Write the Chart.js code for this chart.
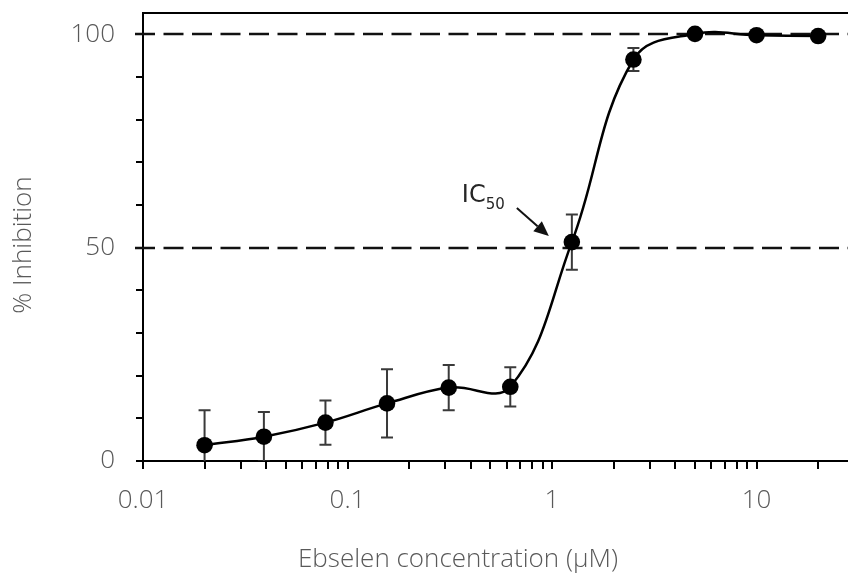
<!DOCTYPE html>
<html>
<head>
<meta charset="utf-8">
<script src="https://cdn.jsdelivr.net/npm/chart.js@4.4.1/dist/chart.umd.min.js"></script>
<style>
html,body{margin:0;padding:0;background:#fff;overflow:hidden}
#wrap{width:848px;height:578px}
</style>
</head>
<body>
<div id="wrap"><canvas id="c" width="848" height="578"></canvas></div>
<script>
// ---- data ----
const concentrations = [0.02, 0.039, 0.078, 0.156, 0.3125, 0.625, 1.25, 2.5, 5, 10, 20];
const inhibition     = [3.7, 5.7, 9.0, 13.5, 17.2, 17.4, 51.3, 94.1, 100.1, 99.8, 99.6];
const inhibitionSD   = [8.2, 5.8, 5.2, 8.0, 5.3, 4.6, 6.5, 2.7, 0.6, 0.6, 0.6];
const xTickLabels    = ['0.01', '0.1', '1', '10'];
const yTickLabels    = [0, 50, 100];
const referenceLevels = [50, 100];
const xTitle = 'Ebselen concentration (µM)';
const yTitle = '% Inhibition';
const icLabel = 'IC';
const icSub = '50';
const icPointIndex = 6;

const GRAY = '#595959';
const FONT = "'Open Sans', 'Noto Sans', sans-serif";

const overlay = {
  id: 'overlay',
  beforeDatasetsDraw(chart) {
    const {ctx, chartArea: a, scales: {x, y}} = chart;
    ctx.save();
    // dashed reference lines
    ctx.strokeStyle = '#111';
    ctx.lineWidth = 2.5;
    ctx.setLineDash([20, 8.5]);
    referenceLevels.forEach(v => {
      const py = Math.round(y.getPixelForValue(v));
      ctx.beginPath();
      ctx.moveTo(a.left - 8, py);
      ctx.lineTo(a.right, py);
      ctx.stroke();
    });
    ctx.setLineDash([]);
    // error bars
    ctx.beginPath();
    ctx.rect(a.left, a.top, a.right - a.left, a.bottom - a.top);
    ctx.clip();
    ctx.strokeStyle = '#3a3a3a';
    ctx.lineWidth = 2;
    concentrations.forEach((c, i) => {
      const px = x.getPixelForValue(c);
      const hi = y.getPixelForValue(inhibition[i] + inhibitionSD[i]);
      const lo = y.getPixelForValue(inhibition[i] - inhibitionSD[i]);
      ctx.beginPath();
      ctx.moveTo(px, hi); ctx.lineTo(px, lo);
      ctx.moveTo(px - 6, hi); ctx.lineTo(px + 6, hi);
      ctx.moveTo(px - 6, lo); ctx.lineTo(px + 6, lo);
      ctx.stroke();
    });
    ctx.restore();
  },
  afterDraw(chart) {
    const {ctx, chartArea: a, scales: {x, y}} = chart;
    ctx.save();
    // top frame line
    ctx.strokeStyle = '#000';
    ctx.lineWidth = 2;
    ctx.beginPath();
    ctx.moveTo(a.left - 1, a.top);
    ctx.lineTo(a.right, a.top);
    ctx.stroke();

    // axis titles
    ctx.fillStyle = GRAY;
    ctx.font = "300 26px " + FONT;
    ctx.textAlign = 'center';
    ctx.textBaseline = 'alphabetic';
    ctx.fillText(xTitle, 458, 567);
    ctx.save();
    ctx.translate(31, 245);
    ctx.rotate(-Math.PI / 2);
    ctx.fillText(yTitle, 0, 0);
    ctx.restore();

    // IC50 annotation
    const px = x.getPixelForValue(concentrations[icPointIndex]);
    const py = y.getPixelForValue(inhibition[icPointIndex]);
    const tip = {x: px - 23, y: py - 6};
    const tail = {x: px - 55, y: py - 34};
    ctx.fillStyle = '#262626';
    ctx.textAlign = 'left';
    ctx.font = "24px 'DejaVu Sans', sans-serif";
    ctx.fillText(icLabel, px - 110, py - 40);
    const w = ctx.measureText(icLabel).width;
    ctx.font = "15px 'DejaVu Sans', sans-serif";
    ctx.fillText(icSub, px - 110 + w, py - 33);

    const ang = Math.atan2(tip.y - tail.y, tip.x - tail.x);
    const hl = 15, hw = 6.5;
    const bx = tip.x - hl * Math.cos(ang), by = tip.y - hl * Math.sin(ang);
    ctx.strokeStyle = '#111';
    ctx.fillStyle = '#111';
    ctx.lineWidth = 2;
    ctx.beginPath();
    ctx.moveTo(tail.x, tail.y);
    ctx.lineTo(bx, by);
    ctx.stroke();
    ctx.beginPath();
    ctx.moveTo(tip.x, tip.y);
    ctx.lineTo(bx + hw * Math.sin(ang), by - hw * Math.cos(ang));
    ctx.lineTo(bx - hw * Math.sin(ang), by + hw * Math.cos(ang));
    ctx.closePath();
    ctx.fill();
    ctx.restore();
  }
};

const tickFont = {family: FONT, size: 26, weight: '300'};

new Chart(document.getElementById('c'), {
  type: 'line',
  data: {
    datasets: [{
      data: concentrations.map((c, i) => ({x: c, y: inhibition[i]})),
      borderColor: '#000',
      borderWidth: 2.5,
      tension: 0.4,
      fill: false,
      clip: false,
      pointRadius: 8.3,
      pointHoverRadius: 8.3,
      pointBackgroundColor: '#000',
      pointBorderColor: '#000',
      pointBorderWidth: 0
    }]
  },
  options: {
    responsive: false,
    animation: false,
    events: [],
    layout: {autoPadding: false, padding: {top: 13, right: 0, left: 0, bottom: 0}},
    plugins: {legend: {display: false}, tooltip: {enabled: false}},
    scales: {
      x: {
        type: 'logarithmic',
        min: 0.01,
        max: 28,
        afterBuildTicks(scale) {
          const t = [];
          for (let e = -2; e <= 1; e++) {
            for (let m = 1; m <= 9; m++) {
              const v = m * Math.pow(10, e);
              if (v <= scale.max + 1e-9) t.push({value: v});
            }
          }
          scale.ticks = t;
        },
        afterFit(scale) {
          scale.height = 117;
          scale.paddingLeft = 0; scale.paddingRight = 0;
          scale.paddingTop = 0; scale.paddingBottom = 0;
        },
        ticks: {
          autoSkip: false,
          maxRotation: 0,
          minRotation: 0,
          padding: 16,
          color: GRAY,
          font: tickFont,
          callback(v) {
            const lab = xTickLabels.find(l => Math.abs(parseFloat(l) / v - 1) < 1e-6);
            return lab === undefined ? '' : lab;
          }
        },
        grid: {drawOnChartArea: false, drawTicks: true, tickLength: 8, color: '#000', lineWidth: 2},
        border: {display: true, color: '#000', width: 2}
      },
      y: {
        type: 'linear',
        min: 0,
        max: 105,
        afterBuildTicks(scale) {
          const t = [];
          for (let v = 0; v <= 100; v += 10) t.push({value: v});
          scale.ticks = t;
        },
        afterFit(scale) {
          scale.width = 143;
          scale.paddingLeft = 0; scale.paddingRight = 0;
          scale.paddingTop = 0; scale.paddingBottom = 0;
        },
        ticks: {
          padding: 21,
          color: GRAY,
          font: tickFont,
          callback(v) { return yTickLabels.includes(v) ? String(v) : ''; }
        },
        grid: {drawOnChartArea: false, drawTicks: true, tickLength: 7, color: '#000', lineWidth: 2},
        border: {display: true, color: '#000', width: 2}
      }
    }
  },
  plugins: [overlay]
});
</script>
</body>
</html>
